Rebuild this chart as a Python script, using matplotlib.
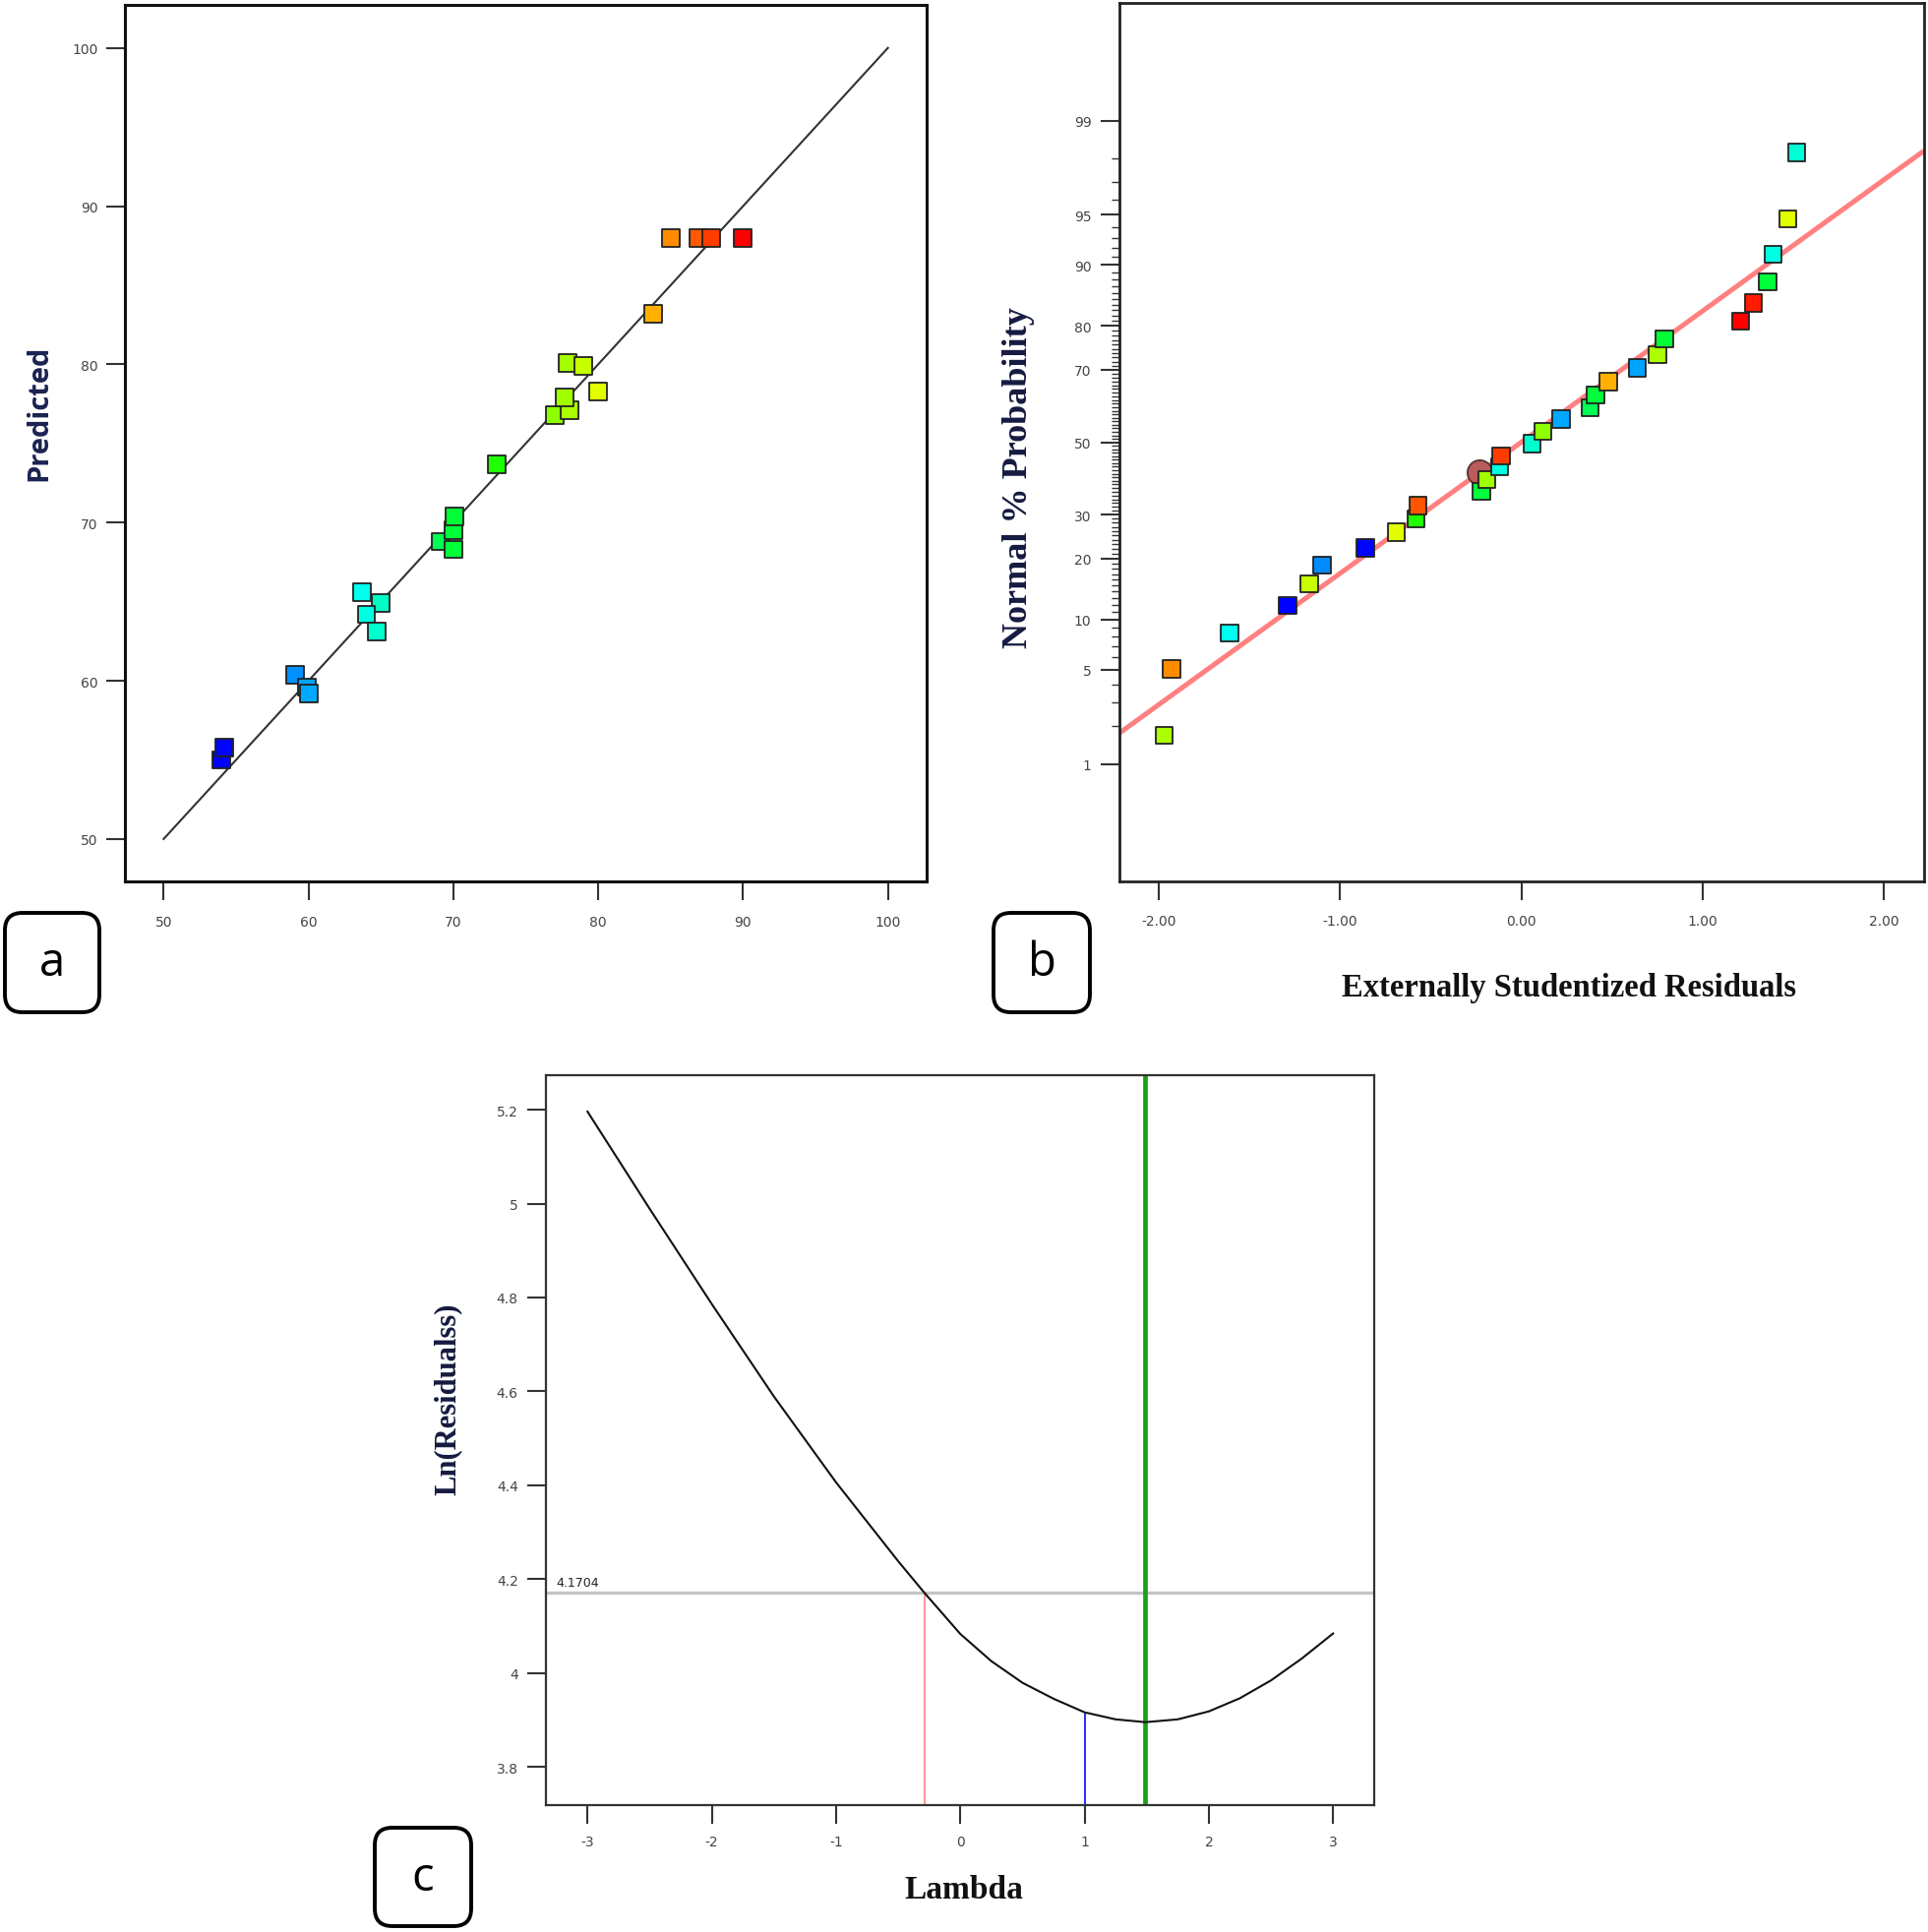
import numpy as np
import matplotlib
matplotlib.use("Agg")
import matplotlib.pyplot as plt
from matplotlib.colors import LinearSegmentedColormap, Normalize
from matplotlib.patches import FancyBboxPatch
from matplotlib.ticker import FixedLocator, FixedFormatter
from statistics import NormalDist

# ---------------- data ----------------
# (a) Predicted vs Actual
actual = [54.0, 54.2, 59.1, 59.9, 60.0, 63.7, 65.0, 64.0, 64.7, 69.1, 70.0, 70.0,
          70.1, 73.0, 77.0, 78.0, 77.7, 77.9, 79.0, 80.0, 83.8, 85.0, 86.9, 87.8, 90.0]
predicted = [55.0, 55.8, 60.4, 59.6, 59.2, 65.6, 64.9, 64.2, 63.1, 68.8, 68.3, 69.5,
             70.4, 73.7, 76.8, 77.1, 77.9, 80.1, 79.9, 78.3, 83.2, 88.0, 88.0, 88.0, 88.0]
ref_line = [50, 100]
a_ticks = [50, 60, 70, 80, 90, 100]

# (b) Normal probability of externally studentized residuals
residuals = [-1.97, -1.93, -1.61, -1.29, -1.17, -1.10, -0.86, -0.69, -0.58, -0.57,
             -0.22, -0.19, -0.12, -0.11, 0.06, 0.12, 0.22, 0.38, 0.41, 0.48,
             0.64, 0.75, 0.79, 1.21, 1.28, 1.36, 1.39, 1.47, 1.52]
normal_pct = [1.7, 5.05, 8.4, 11.9, 15.3, 18.7, 22.2, 25.7, 29.0, 32.4,
              36.1, 39.4, 43.0, 46.1, 49.6, 53.1, 56.6, 59.9, 63.4, 66.9,
              70.5, 73.7, 77.3, 80.9, 84.3, 87.7, 91.3, 94.7, 98.2]
resid_actual = [78.0, 85.0, 63.7, 54.0, 79.0, 59.0, 54.2, 80.0, 73.0, 87.0,
                70.0, 77.7, 64.0, 87.8, 64.7, 77.0, 60.0, 69.1, 70.0, 83.8,
                59.9, 78.0, 70.1, 90.0, 89.0, 70.0, 64.0, 80.0, 64.5]
highlight_resid = [-0.23]
highlight_pct = [41.5]
normal_line_x = [-2.22, 2.22]
normal_line_pct = [1.76, 98.24]
b_major = [1, 5, 10, 20, 30, 50, 70, 80, 90, 95, 99]
b_xticks = [-2.0, -1.0, 0.0, 1.0, 2.0]
b_xlabels = ["-2.00", "-1.00", "0.00", "1.00", "2.00"]

# (c) Box-Cox plot
lambdas = [-3.0, -2.5, -2.0, -1.5, -1.0, -0.5, -0.29, 0.0, 0.25, 0.5, 0.75, 1.0,
           1.25, 1.49, 1.75, 2.0, 2.25, 2.5, 2.75, 3.0]
ln_resid = [5.196, 4.989, 4.786, 4.589, 4.406, 4.238, 4.171, 4.083, 4.025, 3.979,
            3.945, 3.916, 3.901, 3.895, 3.901, 3.918, 3.946, 3.984, 4.031, 4.084]
ci_value = 4.1704
ci_low_lambda = -0.29
current_lambda = 1.0
current_ln = 3.916
best_lambda = 1.49
c_xticks = [-3, -2, -1, 0, 1, 2, 3]
c_yticks = [3.8, 4.0, 4.2, 4.4, 4.6, 4.8, 5.0, 5.2]
c_ylabels = ["3.8", "4", "4.2", "4.4", "4.6", "4.8", "5", "5.2"]

# ---------------- styling helpers ----------------
W, H = 1960, 1965
fig = plt.figure(figsize=(W / 100, H / 100), dpi=100)
fig.patch.set_facecolor("white")

cmap = LinearSegmentedColormap.from_list(
    "de", ["#0000ff", "#00ffff", "#00ff00", "#ffff00", "#ff0000"])
norm = Normalize(54, 90)

def axes_px(l, t, r, b):
    return fig.add_axes([l / W, 1 - b / H, (r - l) / W, (b - t) / H])

def style_axes(ax, lw, col="#222222"):
    for s in ax.spines.values():
        s.set_linewidth(lw)
        s.set_color(col)
    ax.tick_params(which="major", direction="out", length=13.5, width=1.5,
                   color="#333333", labelcolor="#444444", labelsize=10)
    ax.tick_params(which="minor", direction="out", length=5.8, width=1.0,
                   color="#333333")

label_font = dict(family="Liberation Serif", weight="bold")

# ---------------- panel a ----------------
axa = axes_px(126.6, 6.3, 942.4, 897.3)
style_axes(axa, 2.2, "#111111")
axa.plot(ref_line, ref_line, color="#333333", lw=1.5, zorder=2)
axa.scatter(actual, predicted, marker="s", s=165, c=actual, cmap=cmap, norm=norm,
            edgecolors="#222222", linewidths=1.3, zorder=3)
axa.set_xlim(47.3, 102.7)
axa.set_ylim(47.3, 102.7)
axa.set_xticks(a_ticks)
axa.set_yticks(a_ticks)
axa.tick_params(axis="x", pad=11)
axa.tick_params(axis="y", pad=6)
fig.text(40 / W, 1 - 420 / H, "Predicted", rotation=90, ha="center", va="center",
         fontsize=21, family="Open Sans", weight="bold", color="#1a2350")

# ---------------- panel b ----------------
_nd = NormalDist()

def _fwd(p):
    q = np.clip(np.asarray(p, dtype=float) / 100.0, 1e-12, 1 - 1e-12)
    return np.vectorize(_nd.inv_cdf, otypes=[float])(q)

def _inv(z):
    z = np.asarray(z, dtype=float)
    return 100.0 * np.vectorize(_nd.cdf, otypes=[float])(z)

axb = axes_px(1137.9, 3.8, 1956.3, 897.3)
style_axes(axb, 2.0, "#222222")
axb.set_yscale("function", functions=(_fwd, _inv))
axb.plot(normal_line_x, normal_line_pct, color="#ff8080", lw=3.6, zorder=2,
         solid_capstyle="butt")
axb.scatter(highlight_resid, highlight_pct, marker="o", s=330, color="#b85c5c",
            edgecolors="#553333", linewidths=1.3, zorder=3)
axb.scatter(residuals, normal_pct, marker="s", s=160, c=resid_actual, cmap=cmap,
            norm=norm, edgecolors="#222222", linewidths=1.3, zorder=4)
axb.set_xlim(-2.218, 2.224)
axb.set_ylim(0.074, 99.926)
axb.yaxis.set_major_locator(FixedLocator(b_major))
axb.yaxis.set_major_formatter(FixedFormatter([str(v) for v in b_major]))
axb.yaxis.set_minor_locator(FixedLocator([v for v in range(1, 100) if v not in b_major]))
axb.yaxis.set_minor_formatter(FixedFormatter([]))
axb.set_xticks(b_xticks)
axb.set_xticklabels(b_xlabels)
axb.tick_params(axis="x", pad=10)
axb.tick_params(axis="y", which="major", pad=7)
fig.text(1035 / W, 1 - 486 / H, "Normal % Probability", rotation=90, ha="center",
         va="center", fontsize=26, color="#151a40", **label_font)
fig.text(1595 / W, 1 - 1005 / H, "Externally Studentized Residuals", ha="center",
         va="center", fontsize=23.5, color="#111111", **label_font)

# ---------------- panel c ----------------
axc = axes_px(555.2, 1094.0, 1397.3, 1835.9)
style_axes(axc, 1.6, "#333333")
axc.set_xlim(-3.333, 3.333)
axc.set_ylim(3.7185, 5.2736)
ybot = axc.get_ylim()[0]
axc.axhline(ci_value, color="#c4c4c4", lw=2.4, zorder=1)
axc.axvline(best_lambda, color="#1aa01a", lw=3.4, zorder=2)
axc.vlines([ci_low_lambda], ybot, ci_value, color="#ff8c8c", lw=1.3, zorder=2)
axc.vlines([current_lambda], ybot, current_ln, color="#3333ff", lw=1.5, zorder=2)
axc.plot(lambdas, ln_resid, color="#111111", lw=1.5, zorder=3,
         solid_joinstyle="round")
axc.text(-3.25, ci_value + 0.008, f"{ci_value:.4f}", fontsize=9, color="#222222",
         ha="left", va="bottom")
axc.set_xticks(c_xticks)
axc.set_xticklabels([str(v) for v in c_xticks])
axc.set_yticks(c_yticks)
axc.set_yticklabels(c_ylabels)
axc.tick_params(axis="x", pad=8)
axc.tick_params(axis="y", pad=7)
fig.text(455 / W, 1 - 1422 / H, "Ln(Residualss)", rotation=90, ha="center",
         va="center", fontsize=22, color="#151a40", **label_font)
fig.text(980 / W, 1 - 1922 / H, "Lambda", ha="center", va="center", fontsize=24,
         color="#111111", **label_font)

# ---------------- panel tags ----------------
def tag(x0, y0, x1, y1, letter):
    box = FancyBboxPatch((x0 / W, 1 - y1 / H), (x1 - x0) / W, (y1 - y0) / H,
                         boxstyle="round,pad=0,rounding_size=0.009",
                         transform=fig.transFigure, facecolor="white",
                         edgecolor="black", linewidth=2.8)
    fig.add_artist(box)
    fig.text((x0 + x1) / 2 / W, 1 - (y0 + y1) / 2 / H, letter, ha="center",
             va="center", fontsize=34, family="Open Sans", color="black")

tag(5, 929, 101, 1030, "a")
tag(1010, 929, 1108, 1030, "b")
tag(381, 1859, 479, 1959, "c")

fig.savefig("out.png", dpi=100)
